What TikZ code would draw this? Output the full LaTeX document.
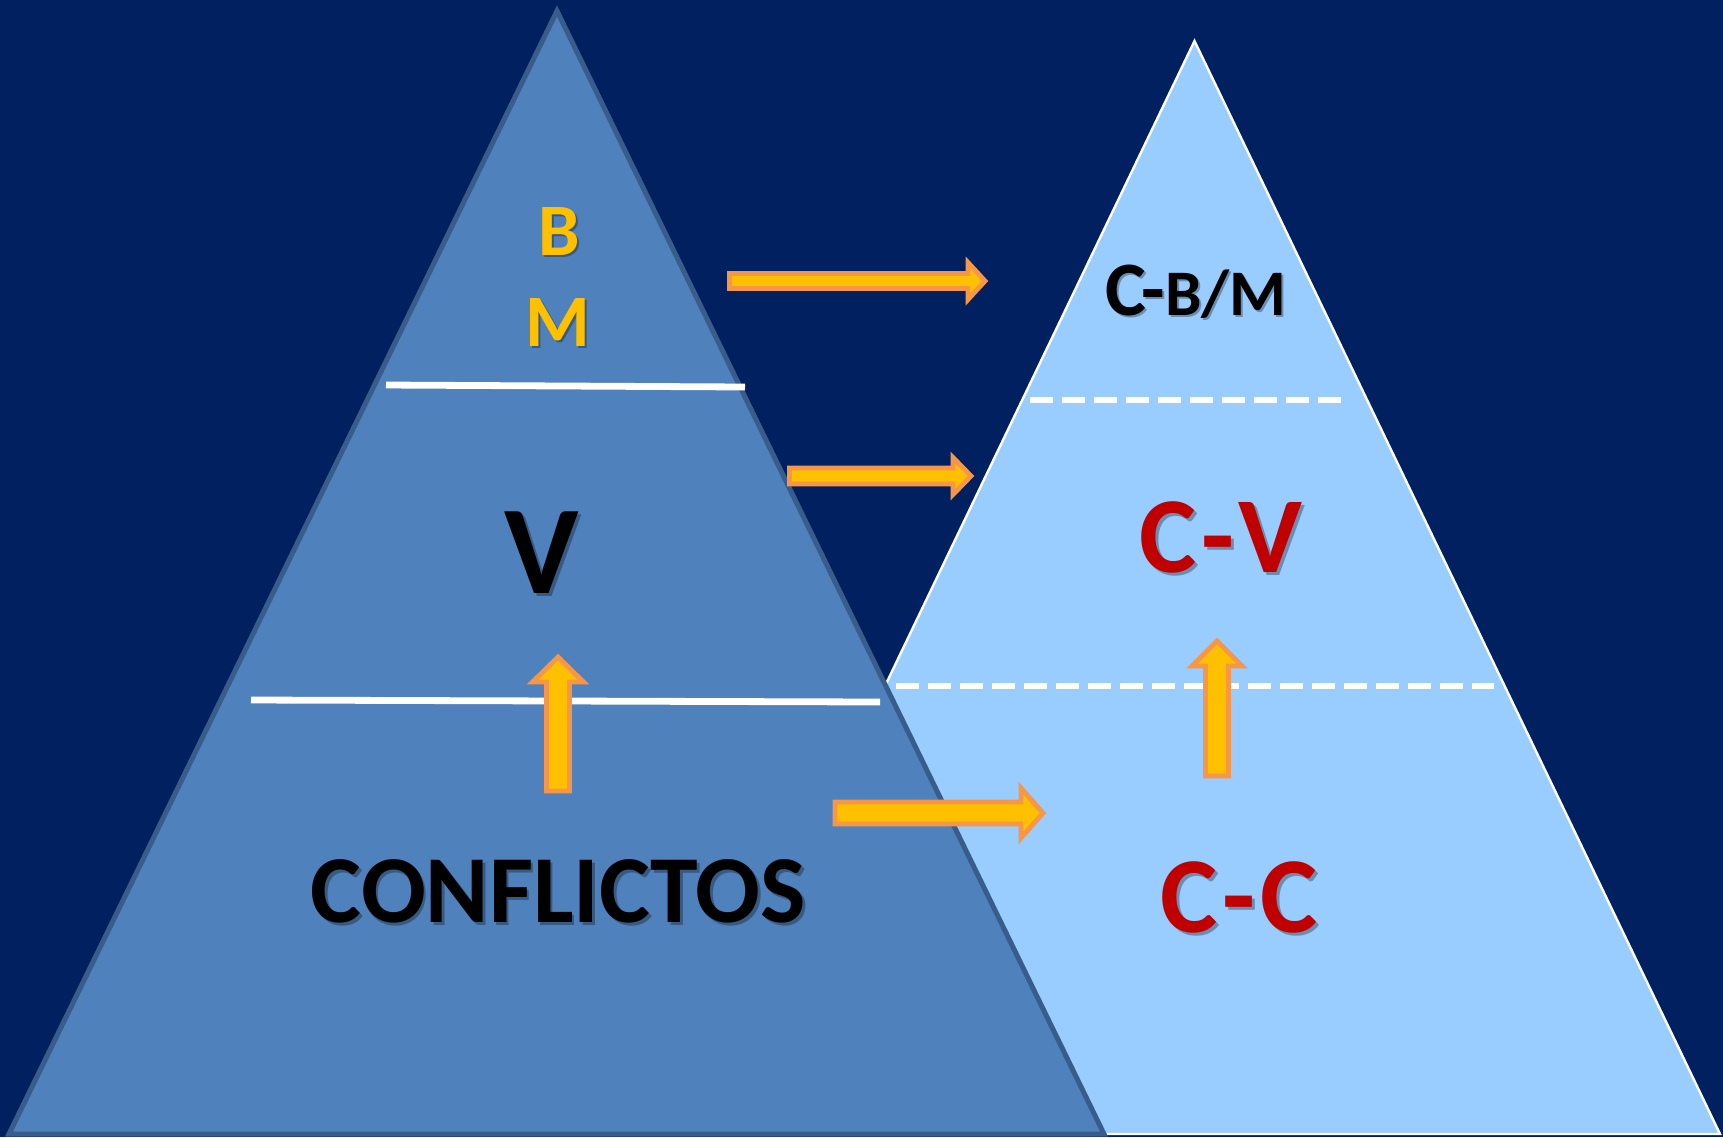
\documentclass[tikz,border=0pt]{standalone}
\usepackage{fontspec}
\setmainfont{Carlito}
\definecolor{bg}{HTML}{002060}
\definecolor{leftfill}{HTML}{4F81BD}
\definecolor{leftedge}{HTML}{385D8A}
\definecolor{rightfill}{HTML}{99CCFF}
\definecolor{arrowfill}{HTML}{FFC000}
\definecolor{arrowedge}{HTML}{F79646}
\definecolor{txtred}{HTML}{C00000}
\definecolor{txtyellow}{HTML}{FFC000}
\newcommand\blkR[6]{% tail, tip, y, shafthalf, headstart, headhalf
  \draw[blockarrow] ({#1},{#3-#4}) -- ({#5},{#3-#4}) -- ({#5},{#3-#6}) -- ({#2},{#3}) -- ({#5},{#3+#6}) -- ({#5},{#3+#4}) -- ({#1},{#3+#4}) -- cycle;}
\newcommand\blkU[6]{% x, tail, tip, shafthalf, headbase, headhalf
  \draw[blockarrow] ({#1-#4},{#2}) -- ({#1-#4},{#5}) -- ({#1-#6},{#5}) -- ({#1},{#3}) -- ({#1+#6},{#5}) -- ({#1+#4},{#5}) -- ({#1+#4},{#2}) -- cycle;}
\newcommand\fs[1]{\fontsize{#1}{#1}\selectfont}
\begin{document}
\begin{tikzpicture}[x=0.5pt,y=-0.5pt,
  blockarrow/.style={fill=arrowfill, draw=arrowedge, line width=2.4pt, line join=miter},
  lbl/.style={inner sep=0pt, anchor=base, font=\bfseries},
  shd/.style={inner sep=0pt, anchor=base, font=\bfseries, text=black, text opacity=0.3},
  solidsep/.style={draw=white, line width=3.4pt},
  dashsep/.style={draw=white, line width=3.4pt, dash pattern=on 11.5pt off 4.5pt}]
\useasboundingbox (0,0) rectangle (1723,1137);
\fill[bg] (0,0) rectangle (1723,1137);
% right triangle
\draw[fill=rightfill, draw=white, line width=1.2pt] (1194.5,41) -- (1720,1134) -- (670,1134) -- cycle;
\coordinate (d1a) at (1030,400); \coordinate (d1b) at (1342,400);
\coordinate (d2a) at (896,686); \coordinate (d2b) at (1494,686);
\draw[dashsep] (d1a) -- (d1b);
\draw[dashsep] (d2a) -- (d2b);
% left triangle
\draw[fill=leftfill, draw=leftedge, line width=2.5pt] (557,11) -- (1104,1134) -- (9,1134) -- cycle;
\coordinate (s1a) at (386,385); \coordinate (s1b) at (745,387);
\coordinate (s2a) at (251,700); \coordinate (s2b) at (880,702);
\draw[solidsep] (s1a) -- (s1b);
\draw[solidsep] (s2a) -- (s2b);
% arrows
\blkR{729.5}{985}{281}{7.5}{968}{18.5}
\blkR{789.5}{971}{476}{8}{953}{18.5}
\blkR{835}{1043}{813}{11}{1021}{25}
\blkU{558}{791}{657}{11.5}{682}{25.5}
\blkU{1217}{776}{641}{11.5}{666}{25}
% texts with shadows
\node[shd] (Bs) at (561,257.5) {\fs{37pt}B};
\node[lbl, text=txtyellow] (B) at (559,255) {\fs{37pt}B};
\node[shd] (Ms) at (560,348.5) {\fs{37pt}M};
\node[lbl, text=txtyellow] (M) at (558,346) {\fs{37pt}M};
\node[shd] (Vs) at (545,596) {\fs{63pt}V};
\node[lbl, text=black] (V) at (542,593) {\fs{63pt}V};
\node[shd] (CONs) at (561,925) {\fs{48pt}CONFLICTOS};
\node[lbl, text=black] (CON) at (558.5,922) {\fs{48pt}CONFLICTOS};
\node[shd] (CBMs) at (1198,317.5) {\fs{38.5pt}C-\fs{32.5pt}B/M};
\node[lbl, text=black] (CBM) at (1196,315) {\fs{38.5pt}C-\fs{32.5pt}B/M};
\node[shd] (CVs) at (1224,575) {\fs{54pt}C\kern2pt-\kern2pt V};
\node[lbl, text=txtred] (CV) at (1221,572) {\fs{54pt}C\kern2pt-\kern2pt V};
\node[shd] (CCs) at (1242,935) {\fs{54pt}C\kern2.5pt-\kern2.5pt C};
\node[lbl, text=txtred] (CC) at (1239,932) {\fs{54pt}C\kern2.5pt-\kern2.5pt C};
\end{tikzpicture}
\end{document}
